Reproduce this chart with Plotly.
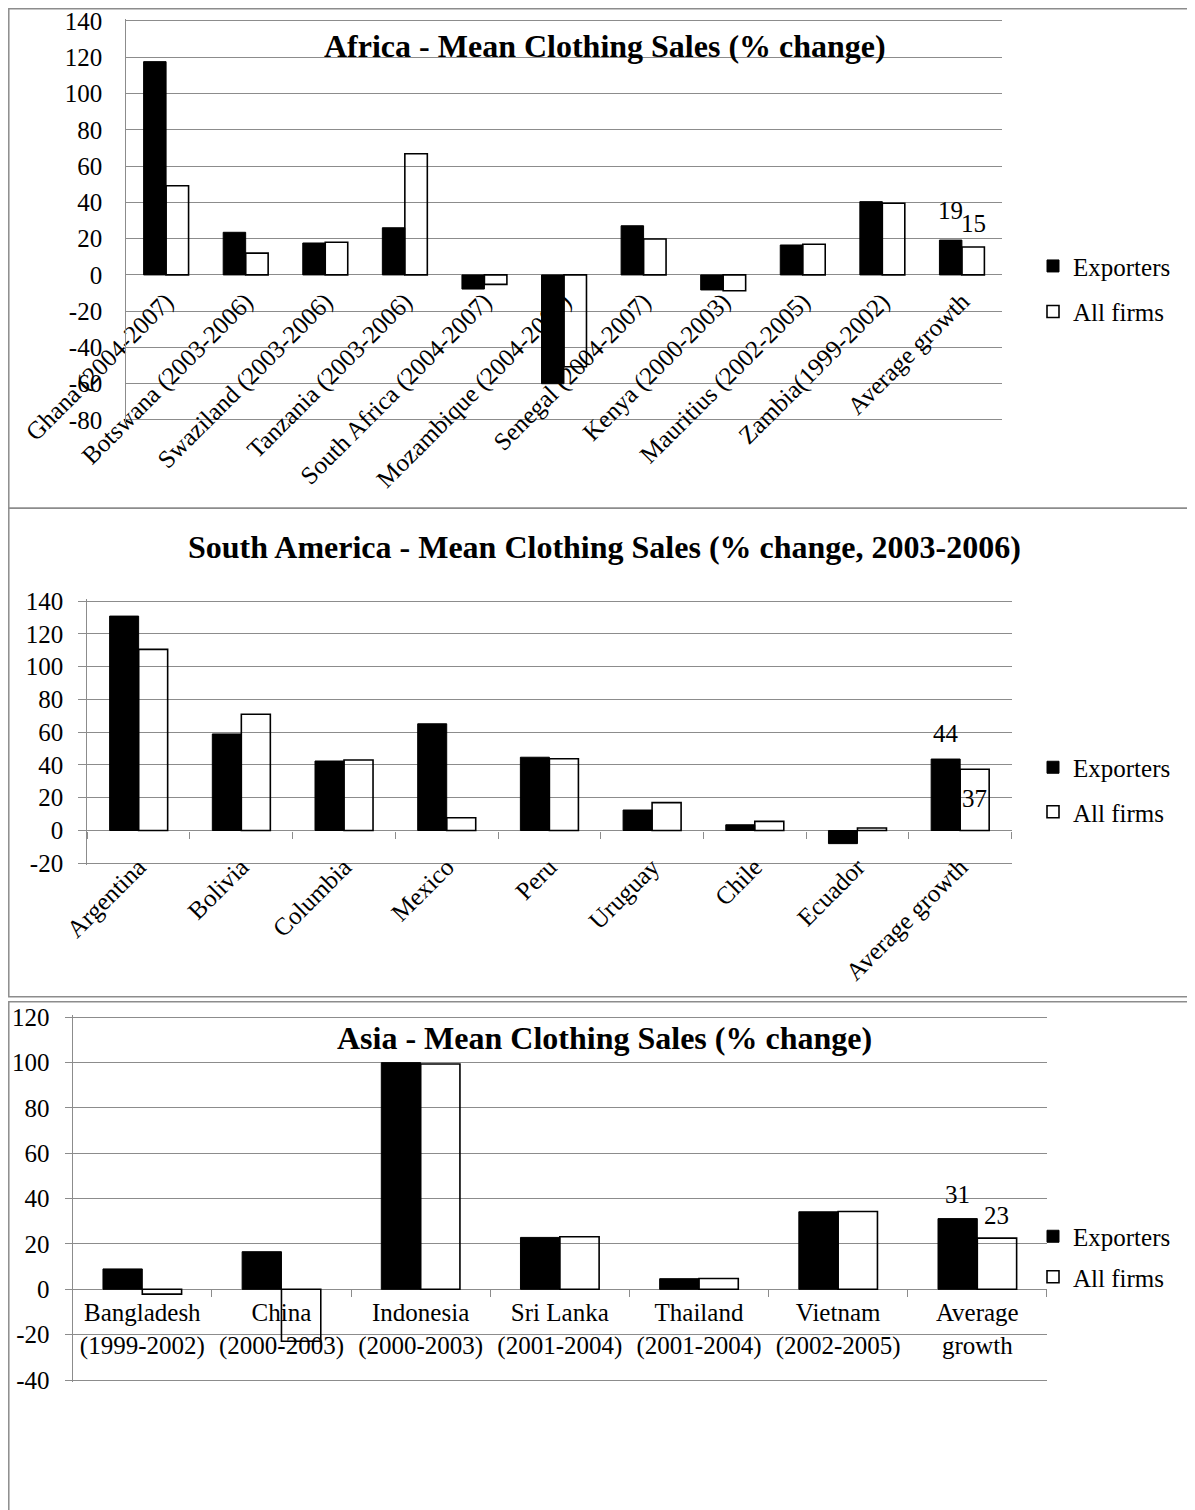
import plotly.graph_objects as go

W, H = 1195, 1510
PAGE_OFFSET = 8  # default body margin of the html page
FONT = "Liberation Serif"
GRID = "#8c8c8c"
FS = 25

# ---------------- data ----------------
africa_categories = ["Ghana (2004-2007)", "Botswana (2003-2006)", "Swaziland (2003-2006)",
                     "Tanzania (2003-2006)", "South Africa (2004-2007)", "Mozambique (2004-2007)",
                     "Senegal (2004-2007)", "Kenya (2000-2003)", "Mauritius (2002-2005)",
                     "Zambia(1999-2002)", "Average growth"]
africa_exporters = [117.6, 23.5, 17.6, 26.0, -7.8, -60.0, 27.1, -8.3, 16.5, 40.4, 19.2]
africa_all_firms = [49.2, 12.0, 18.0, 66.8, -5.2, -50.6, 19.8, -8.7, 16.9, 39.5, 15.4]
africa_yticks = [-80, -60, -40, -20, 0, 20, 40, 60, 80, 100, 120, 140]

sa_categories = ["Argentina", "Bolivia", "Columbia", "Mexico", "Peru", "Uruguay",
                 "Chile", "Ecuador", "Average growth"]
sa_exporters = [130.8, 58.9, 42.4, 65.1, 44.7, 12.5, 3.5, -8.0, 43.6]
sa_all_firms = [110.5, 70.9, 43.0, 7.8, 43.8, 17.0, 5.6, 1.5, 37.4]
sa_yticks = [-20, 0, 20, 40, 60, 80, 100, 120, 140]

asia_categories = ["Bangladesh<br>(1999-2002)", "China<br>(2000-2003)", "Indonesia<br>(2000-2003)",
                   "Sri Lanka<br>(2001-2004)", "Thailand<br>(2001-2004)", "Vietnam<br>(2002-2005)",
                   "Average<br>growth"]
asia_exporters = [9.0, 16.6, 100.0, 22.9, 4.7, 34.2, 31.2]
asia_all_firms = [-2.1, -22.9, 99.4, 23.2, 4.8, 34.3, 22.6]
asia_yticks = [-40, -20, 0, 20, 40, 60, 80, 100, 120]

africa_title = "Africa - Mean Clothing Sales (% change)"
sa_title = "South America - Mean Clothing Sales (% change, 2003-2006)"
asia_title = "Asia - Mean Clothing Sales (% change)"
series_names = ["Exporters", "All firms"]

BARGAP = 0.435
RANGE_PAD = 1.0  # small pad (in data units) so end gridlines are kept


def fx(px):
    return (px - PAGE_OFFSET) / W


def fy(py):
    return 1 - (py - PAGE_OFFSET) / H


panels = [
    dict(key="", cats=africa_categories, exp=africa_exporters, allf=africa_all_firms,
         yt=africa_yticks, title=africa_title, title_x=605.3, title_y=46,
         x0=126.3, x1=1001.7, ytop=21, ybot=420,
         yticks="", yticklen=0, ystand=18, xangle=-45, xticks="", xticklen=0, xstand=6,
         xlayer="below traces", legend_y=288.7, lgap=10,
         lab_shift=(30, 23)),
    dict(key="2", cats=sa_categories, exp=sa_exporters, allf=sa_all_firms,
         yt=sa_yticks, title=sa_title, title_x=604, title_y=547,
         x0=87.3, x1=1011.5, ytop=601, ybot=863.3,
         yticks="outside", yticklen=8, ystand=10, xangle=-45, xticks="outside", xticklen=7, xstand=16,
         xlayer="above traces", legend_y=789.5, lgap=9,
         lab_shift=(26, -29)),
    dict(key="3", cats=asia_categories, exp=asia_exporters, allf=asia_all_firms,
         yt=asia_yticks, title=asia_title, title_x=604.8, title_y=1038,
         x0=72.7, x1=1046.9, ytop=1017.3, ybot=1380,
         yticks="outside", yticklen=7, ystand=10, xangle=0, xticks="outside", xticklen=7, xstand=6,
         xlayer="above traces", legend_y=1256.5, lgap=5,
         lab_shift=(24, 23)),
]

fig = go.Figure()
annotations = []
layout = dict(
    width=W, height=H, margin=dict(l=0, r=0, t=0, b=0, autoexpand=False),
    paper_bgcolor="white", plot_bgcolor="white",
    barmode="group", bargap=BARGAP, bargroupgap=0,
    font=dict(family=FONT, size=FS, color="black"),
)

half = (1 - BARGAP) / 4  # offset of each bar centre from category centre

for p in panels:
    k = p["key"]
    xa, ya = "x" + k, "y" + k
    leg = "legend" + k
    fig.add_trace(go.Bar(x=p["cats"], y=p["exp"], name=series_names[0], xaxis=xa, yaxis=ya,
                         legend=leg, legendgroup="e" + k,
                         marker=dict(color="black", line=dict(color="black", width=1))))
    fig.add_trace(go.Bar(x=p["cats"], y=p["allf"], name=series_names[1], xaxis=xa, yaxis=ya,
                         legend=leg, legendgroup="a" + k,
                         marker=dict(color="rgba(0,0,0,0)", line=dict(color="black", width=1.6))))
    ymin, ymax = min(p["yt"]), max(p["yt"])
    pxu = (p["ybot"] - p["ytop"]) / (ymax - ymin)
    zero_py = p["ytop"] + ymax * pxu
    layout["xaxis" + k] = dict(
        domain=[fx(p["x0"]), fx(p["x1"])], anchor="free", position=fy(zero_py),
        type="category", categoryorder="array", categoryarray=p["cats"],
        tickangle=p["xangle"], ticks=p["xticks"], ticklen=p["xticklen"], tickcolor=GRID,
        tickwidth=1.2, tickson="boundaries", ticklabelstandoff=p["xstand"],
        ticklabeloverflow="allow",
        showgrid=False, showline=False, zeroline=False, layer=p["xlayer"], automargin=False,
        tickfont=dict(family=FONT, size=FS, color="black"), fixedrange=True,
    )
    layout["yaxis" + k] = dict(
        domain=[fy(p["ybot"] + RANGE_PAD * pxu), fy(p["ytop"] - RANGE_PAD * pxu)], anchor=xa,
        range=[ymin - RANGE_PAD, ymax + RANGE_PAD],
        tickmode="array", tickvals=p["yt"], ticktext=[str(v) for v in p["yt"]],
        showgrid=True, gridcolor=GRID, gridwidth=1.2, zeroline=False,
        showline=True, linecolor=GRID, linewidth=1.2, automargin=False,
        ticks=p["yticks"], ticklen=p["yticklen"], tickcolor=GRID, tickwidth=1.2,
        ticklabelstandoff=p["ystand"], ticklabeloverflow="allow",
        tickfont=dict(family=FONT, size=FS, color="black"), fixedrange=True,
    )
    layout[leg] = dict(
        x=fx(1033), xanchor="left", y=fy(p["legend_y"]), yanchor="middle",
        bgcolor="rgba(0,0,0,0)", font=dict(family=FONT, size=FS, color="black"),
        tracegroupgap=p["lgap"], itemclick=False,
    )
    annotations.append(dict(
        xref="paper", yref="paper", x=fx(p["title_x"]), y=fy(p["title_y"]),
        xanchor="center", yanchor="middle", showarrow=False,
        text="<b>" + p["title"] + "</b>", font=dict(family=FONT, size=32, color="black")))
    # data labels on the last category (average growth)
    last = len(p["cats"]) - 1
    for val, sign, shift in ((p["exp"][last], -1, p["lab_shift"][0]),
                             (p["allf"][last], 1, p["lab_shift"][1])):
        annotations.append(dict(
            xref=xa, yref=ya, x=last + sign * half, y=val, text=f"{round(val)}",
            showarrow=False, xanchor="center", yanchor="middle", yshift=shift,
            font=dict(family=FONT, size=FS, color="black")))

# chart-area frames
frames = [(8.8, 508.3, 8.8), (8.8, 996.7, 508.3), (8.8, 1530, 1001.7)]
shapes = []
for x0, yb, yt in frames:
    shapes.append(dict(type="rect", xref="paper", yref="paper", x0=fx(x0), x1=1.05,
                       y0=fy(yb), y1=fy(yt), line=dict(color=GRID, width=1.5),
                       fillcolor="rgba(0,0,0,0)", layer="below"))

layout["annotations"] = annotations
layout["shapes"] = shapes
fig.update_layout(**layout)
fig.write_html("out.html")
